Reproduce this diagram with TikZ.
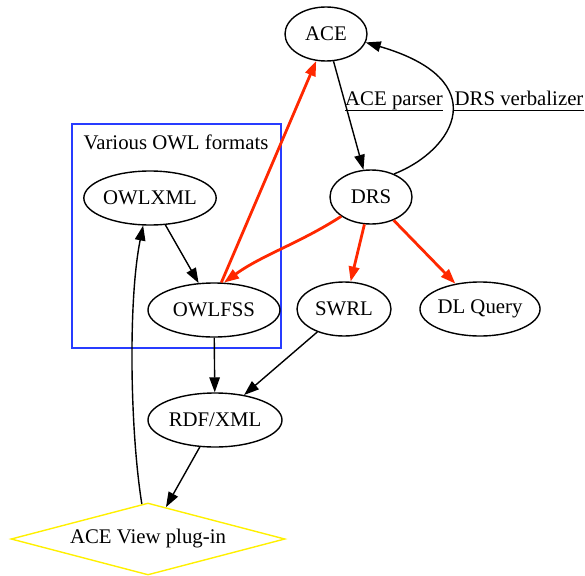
\documentclass[tikz,border=0pt]{standalone}
\usepackage{fontspec}
\setmainfont{Liberation Serif}
\usetikzlibrary{shapes.geometric,arrows.meta}
\definecolor{hotred}{RGB}{255,40,0}
\definecolor{boxblue}{RGB}{40,60,255}
\definecolor{plugyellow}{RGB}{255,240,0}

\begin{document}
\begin{tikzpicture}[x=1pt, y=-1pt, font=\fontsize{20.8}{25}\selectfont,
  blob/.style={ellipse, draw, line width=1.4pt, inner sep=0pt, minimum height=54pt},
  edge/.style={-{Triangle[length=15pt,width=10.5pt]}, line width=1.4pt},
  hot/.style={-{Triangle[length=15pt,width=10.5pt]}, line width=2.8pt, color=hotred},
  tag/.style={inner sep=0pt, text depth=4.6pt, anchor=base}]

\useasboundingbox (0,0) rectangle (585,575);

% the cluster of OWL formats
\draw[boxblue, line width=1.4pt] (72,124) rectangle (281,348);
\node (owlformats) at (176,142) {Various OWL formats};

\node[blob, minimum width=82pt]  (ace)     at (326,34)  {ACE};
\node[blob, minimum width=82pt]  (drs)     at (371,197) {DRS};
\node[blob, minimum width=128pt] (owlxml)  at (150,198) {OWLXML};
\node[blob, minimum width=132pt] (owlfss)  at (214,310) {OWLFSS};
\node[blob, minimum width=94pt]  (swrl)    at (344,309) {SWRL};
\node[blob, minimum width=120pt] (dlquery) at (480,309) {DL Query};
\node[blob, minimum width=134pt] (rdfxml)  at (215,420) {RDF/XML};
\node[diamond, draw=plugyellow, line width=1.4pt, inner sep=0pt, aspect=3.8,
      minimum width=274pt, minimum height=72pt] (aceview) at (148,539) {ACE View plug-in};

% edge labels
\node[tag] (parser) at (394,106) {ACE parser};
\node[tag] (verbalizer) at (519,106) {DRS verbalizer};
\draw[line width=1.2pt] (parser.south west) -- (parser.south east);
\draw[line width=1.2pt] (verbalizer.south west) -- (verbalizer.south east);

% black edges
\draw[edge] (ace) -- (drs);
\draw[edge] (drs.45) .. controls (455,150) and (495,80) .. (ace.-12);
\draw[edge] (owlxml) -- (owlfss);
\draw[edge] (owlfss) -- (rdfxml);
\draw[edge] (swrl) -- (rdfxml);
\draw[edge] (rdfxml) -- (aceview);
\draw[edge] (aceview.100) .. controls (130,430) and (128,300) .. (owlxml.256);

% red edges
\draw[hot] (drs.213) .. controls (300,243) and (262,255) .. (owlfss.70);
\draw[hot] (owlfss.75) -- (ace.250);
\draw[hot] (drs) -- (swrl);
\draw[hot] (drs) -- (dlquery);

\end{tikzpicture}
\end{document}
